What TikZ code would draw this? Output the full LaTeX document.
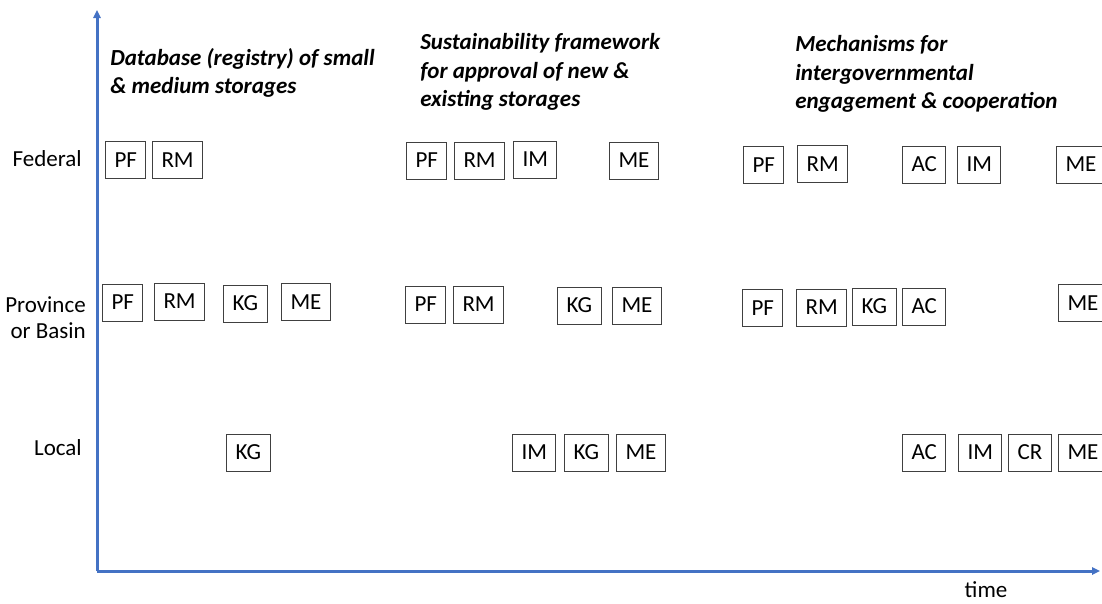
\documentclass[tikz,border=0pt]{standalone}
\usepackage{fontspec}
\setmainfont{Carlito}
\usepackage{xcolor}
\usepackage{tikz}
\usetikzlibrary{arrows.meta}
\definecolor{axisBlue}{HTML}{4472C4}
\definecolor{boxGray}{HTML}{404040}
\tikzset{
	tagBox/.style={draw=boxGray, line width=0.75pt, anchor=west, inner xsep=6.75pt, inner ysep=0pt, minimum height=27.75pt, font=\fontsize{17.25}{21}\selectfont},
	levelLabel/.style={inner sep=0pt, font=\fontsize{17.25}{19.5}\selectfont},
	stageTitle/.style={inner sep=0pt, anchor=north west, align=left, font=\fontsize{17.25}{21.4}\selectfont\bfseries\itshape},
	timeAxis/.style={axisBlue, line width=2.25pt, -{Triangle[length=6pt, width=5.5pt]}}
}

\begin{document}
\begin{tikzpicture}[x=0.75pt, y=-0.75pt]

  \clip (0,0) rectangle (1102,603);

  \coordinate (origin) at (97,571);
  \coordinate (yTop) at (97,10);
  \coordinate (xEnd) at (1100,571);

  \draw[timeAxis] (origin) -- (yTop);
  \draw[timeAxis] (origin) -- (xEnd);

  % levels
  \node[levelLabel, anchor=base east] (federal) at (82,166) {Federal};
  \node[levelLabel, anchor=north east, align=right] (province) at (86,296.5) {Province\\or Basin};
  \node[levelLabel, anchor=base east] (local) at (82,455) {Local};
  \node[levelLabel, anchor=base] (time) at (986,597) {time};

  % stages
  \node[stageTitle] (database) at (110,48) {Database (registry) of small\\\& medium storages};
  \node[stageTitle] (framework) at (420,33.5) {Sustainability framework\\for approval of new \&\\existing storages};
  \node[stageTitle] (mechanisms) at (795,35.5) {Mechanisms for\\intergovernmental\\engagement \& cooperation};

  % federal row
  \node[tagBox] (fedPFa) at (105,160) {PF};
  \node[tagBox] (fedRMa) at (152,160) {RM};
  \node[tagBox] (fedPFb) at (406,160.5) {PF};
  \node[tagBox] (fedRMb) at (454,160.5) {RM};
  \node[tagBox] (fedIMb) at (513,159.5) {IM};
  \node[tagBox] (fedMEb) at (609,160.5) {ME};
  \node[tagBox] (fedPFc) at (743,165) {PF};
  \node[tagBox] (fedRMc) at (797,164) {RM};
  \node[tagBox] (fedACc) at (902,164.5) {AC};
  \node[tagBox] (fedIMc) at (957,164.5) {IM};
  \node[tagBox] (fedMEc) at (1056,164.5) {ME};

  % province row
  \node[tagBox] (provPFa) at (102,302.5) {PF};
  \node[tagBox] (provRMa) at (154,301.5) {RM};
  \node[tagBox] (provKGa) at (223,303.5) {KG};
  \node[tagBox] (provMEa) at (281,302) {ME};
  \node[tagBox] (provPFb) at (405,304.5) {PF};
  \node[tagBox] (provRMb) at (453,304.5) {RM};
  \node[tagBox] (provKGb) at (557,305.5) {KG};
  \node[tagBox] (provMEb) at (612,305.5) {ME};
  \node[tagBox] (provPFc) at (742,308) {PF};
  \node[tagBox] (provRMc) at (796,307.5) {RM};
  \node[tagBox] (provKGc) at (852,306.5) {KG};
  \node[tagBox] (provACc) at (902,306.5) {AC};
  \node[tagBox] (provMEc) at (1058,303) {ME};

  % local row
  \node[tagBox] (locKGa) at (226,452.5) {KG};
  \node[tagBox] (locIMb) at (512,452.5) {IM};
  \node[tagBox] (locKGb) at (564,452.5) {KG};
  \node[tagBox] (locMEb) at (616,452.5) {ME};
  \node[tagBox] (locACc) at (902,452.5) {AC};
  \node[tagBox] (locIMc) at (958,452.5) {IM};
  \node[tagBox] (locCRc) at (1008,452.5) {CR};
  \node[tagBox] (locMEc) at (1058,452.5) {ME};

\end{tikzpicture}
\end{document}
